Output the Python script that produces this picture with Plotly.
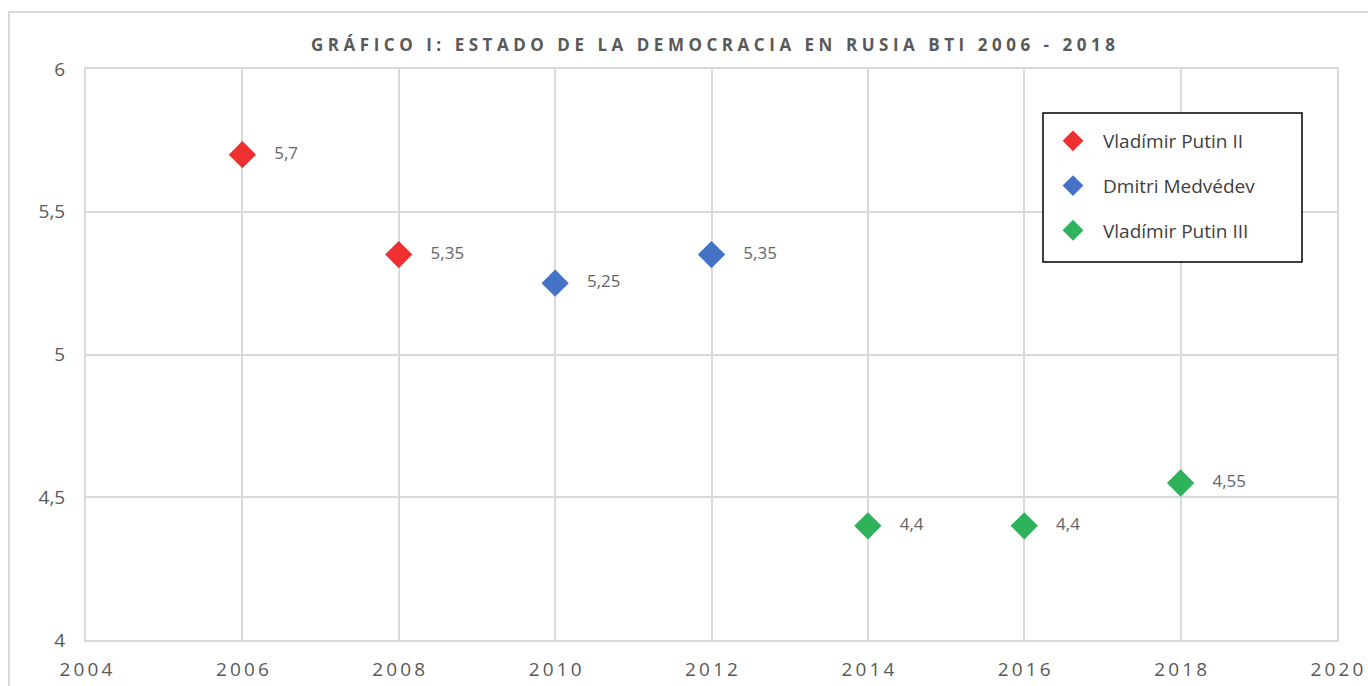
import plotly.graph_objects as go

series_names = ["Vladímir Putin II", "Dmitri Medvédev", "Vladímir Putin III"]
years = [[2006, 2008], [2010, 2012], [2014, 2016, 2018]]
scores = [[5.7, 5.35], [5.25, 5.35], [4.4, 4.4, 4.55]]
colors = ["#EE3030", "#4472C4", "#2EB25C"]
x_ticks = [2004, 2006, 2008, 2010, 2012, 2014, 2016, 2018, 2020]
y_ticks = [4, 4.5, 5, 5.5, 6]
title = "GRÁFICO I: ESTADO DE LA DEMOCRACIA EN RUSIA BTI 2006 - 2018"

def spaced(s, sep="\u200a"):
    return sep.join(list(s))

def fmt(v):
    return ("%g" % v).replace(".", ",")

PL, PR, PT, PB = 86, 1337, 69, 640
W, H = 1368, 686

def px(x):
    return (x - PL) / (PR - PL)

def py(y):
    return (PB - y) / (PB - PT)

fig = go.Figure()
for i, name in enumerate(series_names):
    fig.add_trace(go.Scatter(
        x=years[i], y=scores[i], mode="markers+text", name=name,
        legendgroup=str(i),
        marker=dict(symbol="diamond", size=21, color=colors[i]),
        text=["    " + fmt(v) for v in scores[i]],
        textposition="middle right",
        textfont=dict(family="Open Sans", size=17, color="#666666"),
        cliponaxis=False,
    ))

grid = "#D9D9D9"
fig.update_layout(
    width=W, height=H,
    margin=dict(l=PL, r=W - PR, t=PT, b=H - PB, autoexpand=False),
    paper_bgcolor="white", plot_bgcolor="white",
    title=dict(text="<b>" + spaced(title, "\u2009\u200a") + "</b>",
               xref="container", x=713 / W, xanchor="center",
               yref="container", y=1 - 45 / H, yanchor="middle",
               font=dict(family="Open Sans", size=17, color="#595959")),
    xaxis=dict(range=[2004, 2020], tickvals=x_ticks,
               ticktext=[spaced(str(t), "\u2009") for t in x_ticks],
               showgrid=True, gridcolor=grid, gridwidth=2,
               showline=True, linecolor=grid, linewidth=2, mirror=True,
               zeroline=False, ticks="", ticklabelstandoff=11, automargin=False,
               tickfont=dict(family="Open Sans", size=19, color="#595959")),
    yaxis=dict(range=[4, 6], tickvals=y_ticks,
               showgrid=True, gridcolor=grid, gridwidth=2,
               showline=True, linecolor=grid, linewidth=2, mirror=True,
               zeroline=False, ticks="", ticklabelstandoff=15, automargin=False,
               tickfont=dict(family="Open Sans", size=19, color="#595959")),
    separators=",.",
    showlegend=True,
    legend=dict(x=px(1043), y=py(122), xanchor="left", yanchor="top",
                borderwidth=0, bgcolor="rgba(0,0,0,0)",
                tracegroupgap=17, itemwidth=50,
                font=dict(family="Open Sans", size=19, color="#404040")),
    shapes=[
        dict(type="rect", xref="paper", yref="paper",
             x0=px(9), x1=1.2, y0=-0.3, y1=py(12),
             line=dict(color="#D9D9D9", width=2), layer="below"),
        dict(type="rect", xref="paper", yref="paper",
             x0=px(1043), x1=px(1302), y0=py(262), y1=py(113),
             line=dict(color="black", width=1.5), fillcolor="white", layer="above"),
    ],
)

fig.write_html(
    "out.html",
    config={"displayModeBar": False},
    post_script="document.body.style.margin='0';document.body.style.overflow='hidden';",
)
